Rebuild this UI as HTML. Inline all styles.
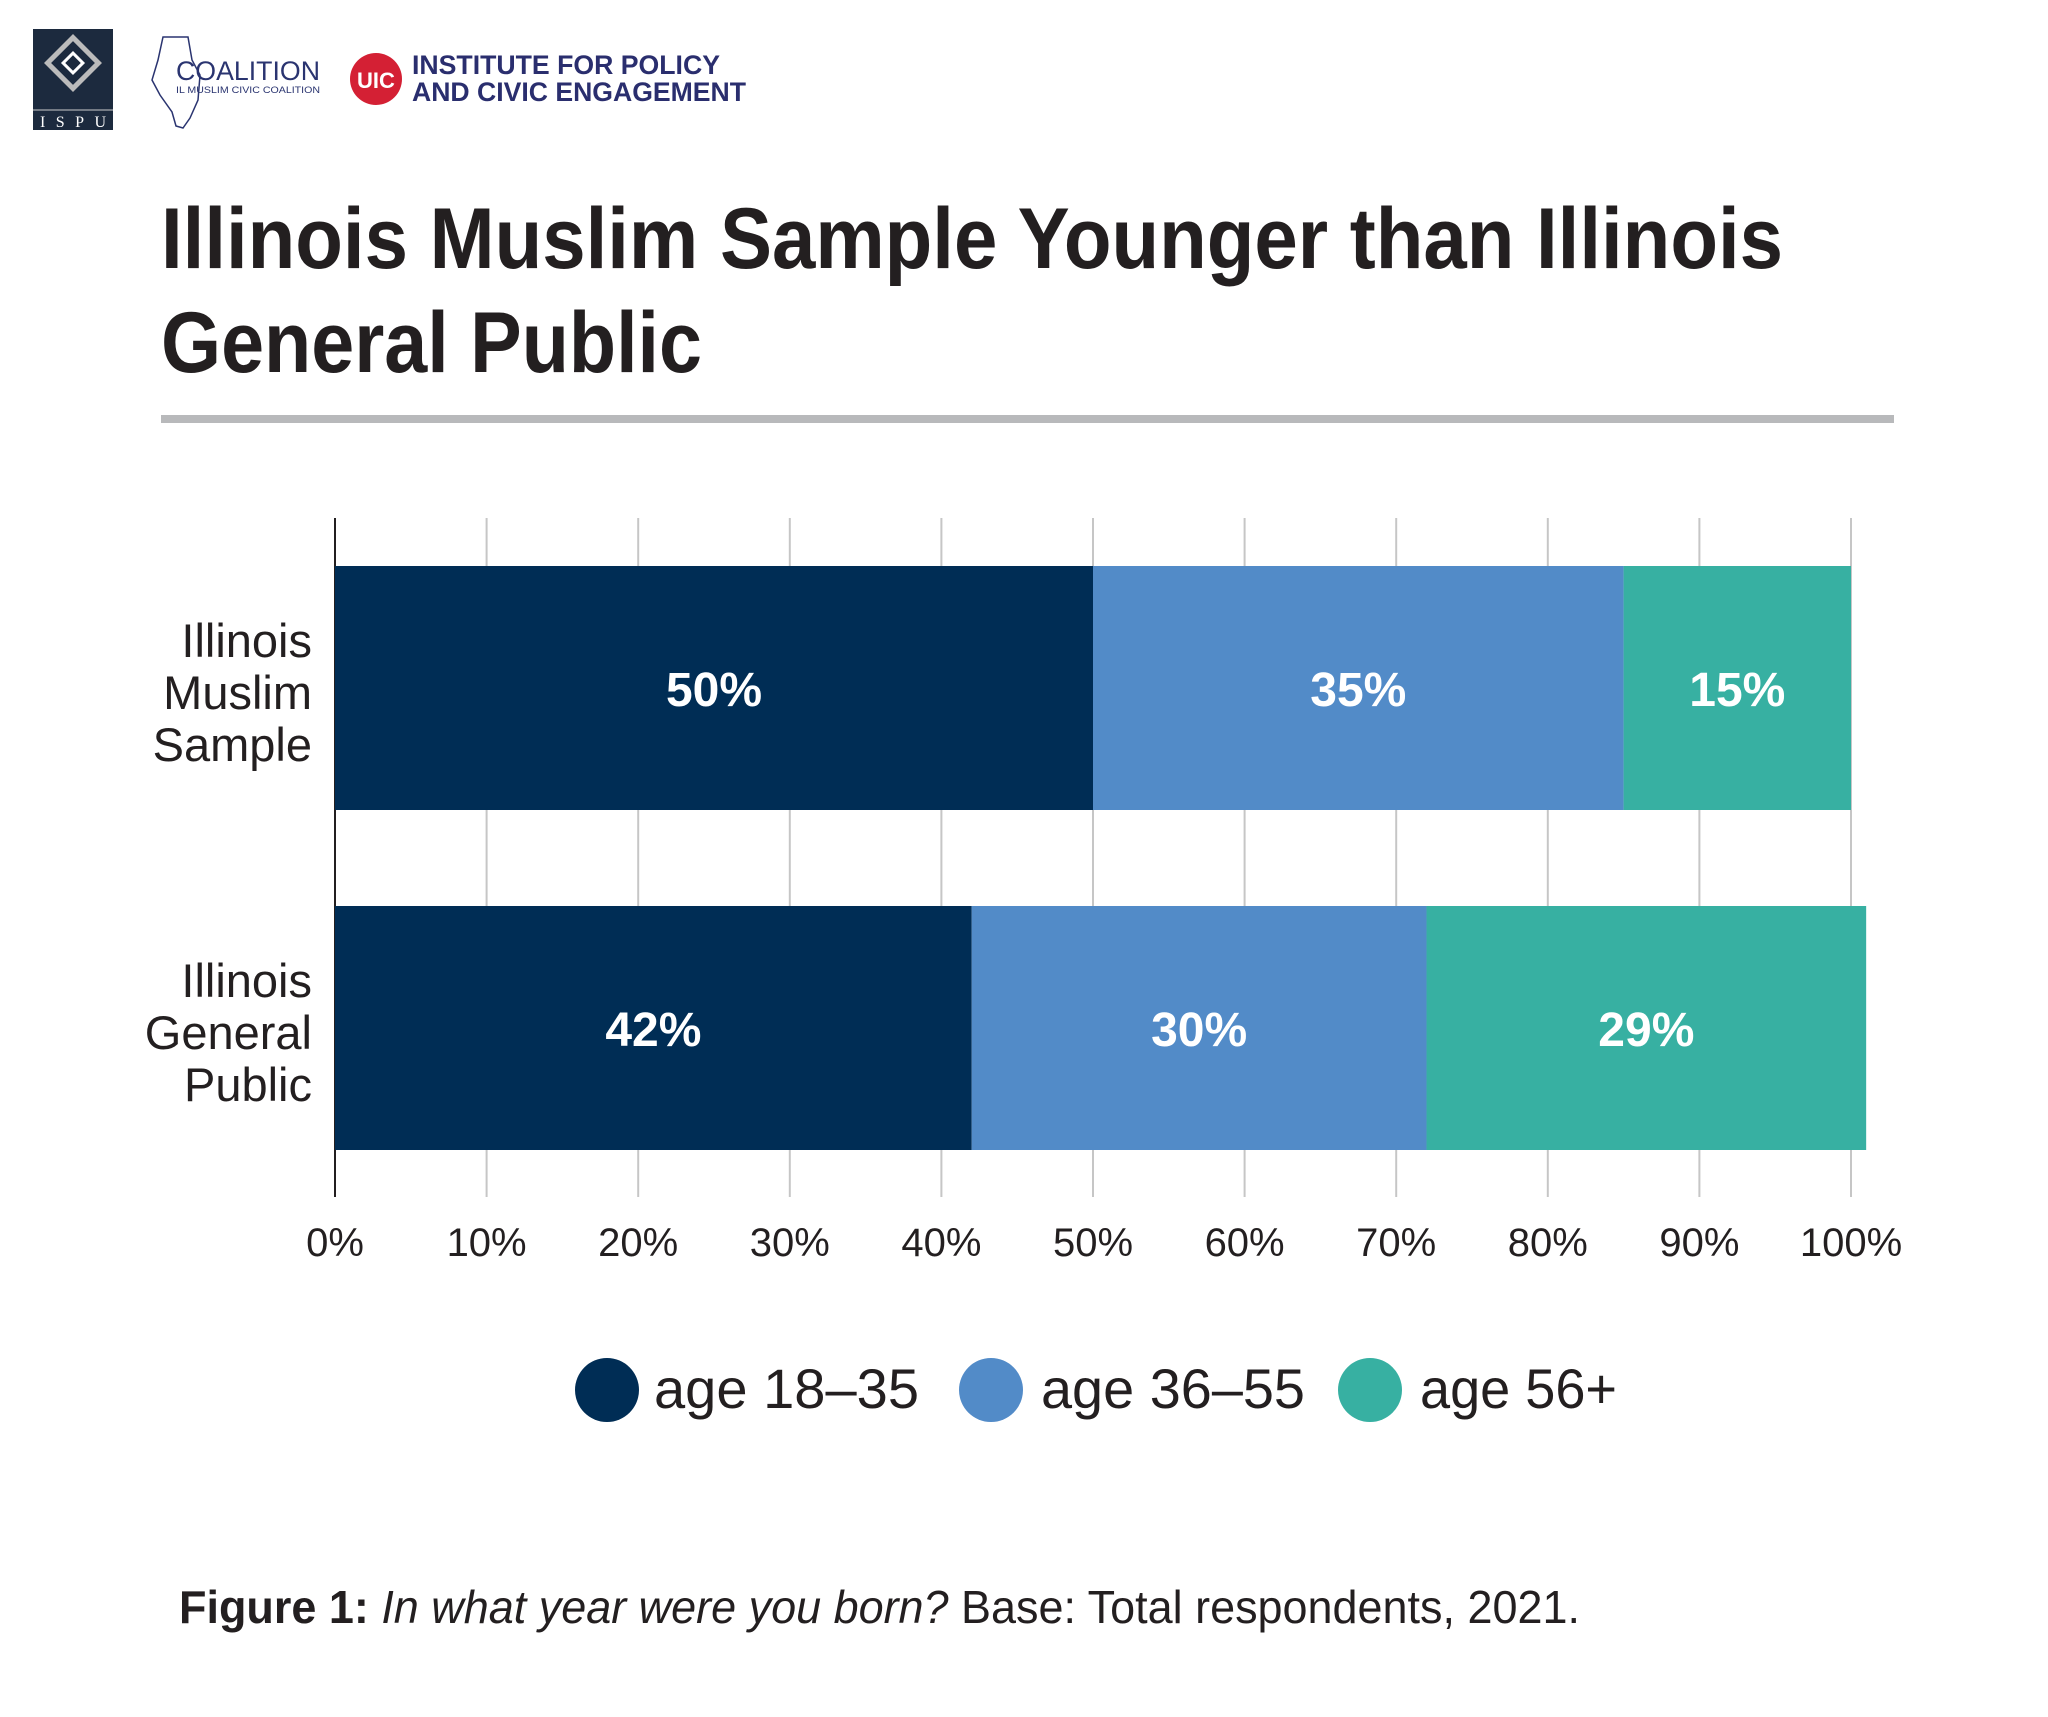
<!DOCTYPE html>
<html><head><meta charset="utf-8"><style>
html,body{margin:0;padding:0;background:#fff;}
svg{display:block;font-family:"Liberation Sans",sans-serif;}
</style></head><body>
<svg id="chart" width="2048" height="1717" viewBox="0 0 2048 1717" xmlns="http://www.w3.org/2000/svg">
  <!-- logos -->
  <g>
    <rect x="33" y="29" width="80" height="101" fill="#1c2a3e"/>
    <rect x="55" y="45" width="36" height="36" fill="none" stroke="#bbb" stroke-width="5" transform="rotate(45 73 63)"/>
    <rect x="66" y="56" width="14" height="14" fill="#1c2a3e" stroke="#fff" stroke-width="3" transform="rotate(45 73 63)"/>
    <line x1="33" y1="110" x2="113" y2="110" stroke="#ccc" stroke-width="1"/>
    <text x="73" y="127" font-family="Liberation Serif, serif" font-size="16" fill="#fff" text-anchor="middle" textLength="66">ISPU</text>
  </g>
  <g>
    <path d="M163 37 L188 37 L192 60 L200 75 L198 100 L190 118 L183 128 L176 126 L172 112 L160 95 L152 80 L158 60 Z" fill="none" stroke="#2a3470" stroke-width="1.5"/>
    <text x="176" y="80" font-size="27" fill="#2a3470" textLength="144" lengthAdjust="spacingAndGlyphs">COALITION</text>
    <text x="176" y="93" font-size="9" fill="#2a3470" textLength="144" lengthAdjust="spacingAndGlyphs">IL MUSLIM CIVIC COALITION</text>
  </g>
  <g>
    <circle cx="376" cy="79" r="26" fill="#d42034"/>
    <text x="376" y="88" font-size="22" font-weight="bold" fill="#fff" text-anchor="middle">UIC</text>
    <text x="412" y="74" font-size="27" font-weight="bold" fill="#2a2e6e" textLength="308" lengthAdjust="spacingAndGlyphs">INSTITUTE FOR POLICY</text>
    <text x="412" y="101" font-size="27" font-weight="bold" fill="#2a2e6e" textLength="334" lengthAdjust="spacingAndGlyphs">AND CIVIC ENGAGEMENT</text>
  </g>
  <!-- title -->
  <text x="161" y="268" font-size="86" font-weight="bold" fill="#231f20" textLength="1622" lengthAdjust="spacingAndGlyphs">Illinois Muslim Sample Younger than Illinois</text>
  <text x="161" y="372" font-size="86" font-weight="bold" fill="#231f20" textLength="541" lengthAdjust="spacingAndGlyphs">General Public</text>
  <rect x="161" y="415" width="1733" height="8" fill="#b8b9bb"/>
  <g id="grid"></g>
  <g id="bars"></g>
  <g id="labels"></g>
  <!-- legend -->
  <g>
    <circle cx="607" cy="1390" r="32" fill="#002d55"/>
    <text x="654" y="1408" font-size="56" fill="#231f20" textLength="265" lengthAdjust="spacingAndGlyphs">age 18–35</text>
    <circle cx="991" cy="1390" r="32" fill="#528bc8"/>
    <text x="1041" y="1408" font-size="56" fill="#231f20" textLength="264" lengthAdjust="spacingAndGlyphs">age 36–55</text>
    <circle cx="1370" cy="1390" r="32" fill="#37b0a2"/>
    <text x="1420" y="1408" font-size="56" fill="#231f20" textLength="197" lengthAdjust="spacingAndGlyphs">age 56+</text>
  </g>
  <text x="179" y="1623" font-size="46" fill="#231f20" textLength="1401" lengthAdjust="spacingAndGlyphs"><tspan font-weight="bold">Figure 1:</tspan> <tspan font-style="italic">In what year were you born?</tspan> Base: Total respondents, 2021.</text>
</svg>
<script>
const categories = [["Illinois","Muslim","Sample"],["Illinois","General","Public"]];
const seriesNames = ["age 18-35","age 36-55","age 56+"];
const age18to35 = [50, 42];
const age36to55 = [35, 30];
const age56plus = [15, 29];
const tickValues = [0,10,20,30,40,50,60,70,80,90,100];
const tickLabels = ["0%","10%","20%","30%","40%","50%","60%","70%","80%","90%","100%"];

const NS = "http://www.w3.org/2000/svg";
const X0 = 335, X1 = 1851;
const x = v => X0 + (X1 - X0) * v / 100;
const bandTops = [566, 906], bandH = 244;
const colors = ["#002d55","#528bc8","#37b0a2"];
function mk(tag, attrs, parent){ const e=document.createElementNS(NS,tag); for(const k in attrs) e.setAttribute(k,attrs[k]); parent.appendChild(e); return e; }
const grid = document.getElementById("grid"), bars = document.getElementById("bars"), labels = document.getElementById("labels");

tickValues.forEach((t,i)=>{
  const gl = mk("line",{x1:x(t),x2:x(t),y1:518,y2:1197,stroke:i===0?"#231f20":"#c6c6c6","stroke-width":i===0?2:2},grid);
  
  
  const tl = mk("text",{x:x(t),y:1256,"font-size":40,fill:"#231f20","text-anchor":"middle"},labels);
  tl.textContent = tickLabels[i];
  
  
});

const series = [age18to35, age36to55, age56plus];
categories.forEach((cat,ci)=>{
  let acc = 0;
  series.forEach((s,si)=>{
    const v = s[ci];
    const r = mk("rect",{x:x(acc),y:bandTops[ci],width:x(acc+v)-x(acc),height:bandH,fill:colors[si]},bars);
    
    
    const t = mk("text",{x:(x(acc)+x(acc+v))/2,y:bandTops[ci]+bandH/2+18,"font-size":48,"font-weight":"bold",fill:"#fff","text-anchor":"middle"},labels);
    t.textContent = v + "%";
    
    
    acc += v;
  });
  cat.forEach((line,li)=>{
    const t = mk("text",{x:312,y:bandTops[ci]+91+li*52,"font-size":47,fill:"#231f20","text-anchor":"end"},labels);
    t.textContent = line;
    
    
  });
});
</script>
</body></html>
